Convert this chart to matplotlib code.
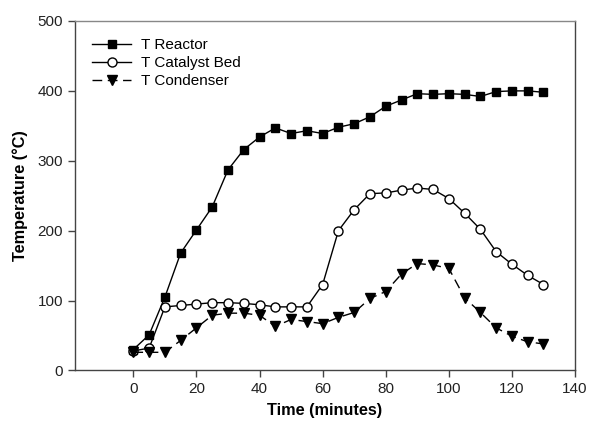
import matplotlib
matplotlib.use("Agg")
import matplotlib.pyplot as plt

time_min = [0, 5, 10, 15, 20, 25, 30, 35, 40, 45, 50, 55, 60, 65, 70, 75, 80, 85,
            90, 95, 100, 105, 110, 115, 120, 125, 130]
t_reactor = [30, 51, 105, 168, 201, 234, 287, 316, 334, 347, 339, 343, 339, 348, 353,
             363, 378, 387, 396, 395, 396, 395, 392, 399, 400, 400, 398]
t_catalyst = [28, 32, 91, 93, 95, 97, 97, 96, 94, 91, 91, 91, 123, 200, 230, 253, 254,
              258, 261, 259, 246, 225, 202, 170, 152, 136, 123]
t_condenser = [26, 26, 26, 43, 61, 79, 82, 82, 79, 63, 73, 70, 67, 76, 83, 103, 113,
               138, 153, 151, 146, 104, 83, 61, 49, 41, 38]
labels = ["T Reactor", "T Catalyst Bed", "T Condenser"]
xticks = [0, 20, 40, 60, 80, 100, 120, 140]
yticks = [0, 100, 200, 300, 400, 500]

plt.rcParams['font.family'] = ['Liberation Sans', 'DejaVu Sans']

fig = plt.figure(figsize=(5.89, 4.30), dpi=100)
ax = fig.add_axes([0.1273, 0.1384, 0.849, 0.8128])

ax.plot(time_min, t_reactor, color='black', lw=1.0, marker='s', ms=5.8,
        mfc='black', mec='black', label=labels[0])
ax.plot(time_min, t_catalyst, color='black', lw=1.0, marker='o', ms=6.5,
        mfc='white', mec='black', mew=1.0, label=labels[1])
ax.plot(time_min, t_condenser, color='black', lw=1.0, ls=(0, (7, 4)), marker='v', ms=6.5,
        mfc='black', mec='black', label=labels[2])

ax.set_xlim(-18.5, 140)
ax.set_ylim(0, 500)
ax.set_xticks(xticks)
ax.set_yticks(yticks)
for s in ['left', 'bottom', 'right']:
    ax.spines[s].set_color('#444444')
    ax.spines[s].set_linewidth(1.0)
ax.spines['top'].set_color('#888888')
ax.spines['top'].set_linewidth(1.0)
ax.tick_params(direction='out', length=5, width=1, colors='#444444',
               labelsize=11, labelcolor='#222222', pad=3.5)

ax.set_xlabel("Time (minutes)", fontsize=11.7, fontweight='bold', labelpad=5)
ax.set_ylabel("Temperature (°C)", fontsize=11.7, fontweight='bold', labelpad=7)

ax.legend(loc='upper left', bbox_to_anchor=(0.006, 0.99), frameon=False, fontsize=11,
          handlelength=2.6, handletextpad=0.6, labelspacing=0.25)

fig.savefig("out.png", dpi=100)
